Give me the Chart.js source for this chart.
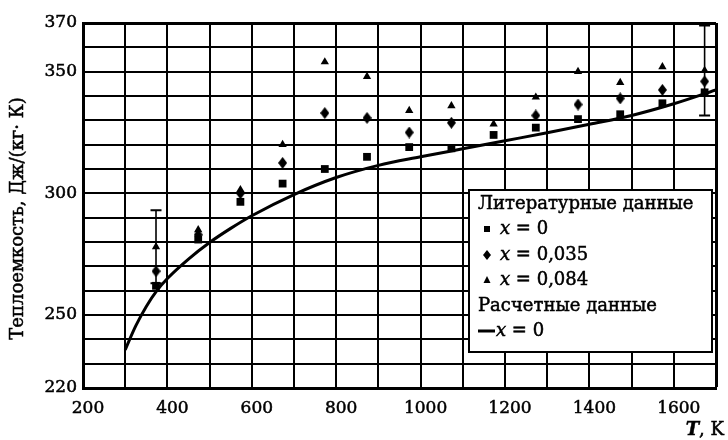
<!DOCTYPE html>
<html>
<head>
<meta charset="utf-8">
<script src="https://cdn.jsdelivr.net/npm/chart.js@4/dist/chart.umd.min.js"></script>
<style>
  html, body { margin: 0; padding: 0; background: #fff; overflow: hidden; }
  #wrap { width: 728px; height: 440px; }
  canvas { display: block; }
</style>
</head>
<body>
<div id="wrap"><canvas id="cp-chart" width="728" height="440"></canvas></div>
<script>
// Heat capacity vs temperature: literature points for three compositions + calculated curve (x = 0)

var temps = [373, 473, 573, 673, 773, 873, 973, 1073, 1173, 1273, 1373, 1473, 1573, 1673];
var cpX0 = [262, 281, 296.5, 304, 310, 315, 319, 318.5, 324, 327, 330.5, 332.5, 337, 341.5];
var cpX035 = [268, 283, 300, 312.5, 333, 331, 325, 329, null, 332, 336.5, 339, 342.5, 346];
var cpX084 = [278, 285, 301.5, 320, 354, 348, 334, 336, 328.5, 339.5, 350, 345.5, 352, 350.5];
// half-width of the error bars drawn on the x = 0,084 points
var errX084 = [15, 0, 0, 0, 0, 0, 0, 0, 0, 0, 0, 0, 0, 18.5];

var calcT = [300, 325, 350, 375, 400, 450, 500, 550, 600, 700, 800, 900, 1000, 1100, 1200, 1300, 1400, 1500, 1600, 1700];
var calcCp = [235.7, 245.5, 253.5, 260, 265, 273, 279.8, 285.6, 290.8, 299.5, 306.5, 311.5, 315, 318.3, 321.6, 324.9, 328.4, 332, 336.8, 342.5];

var yLabels = [220, 250, 300, 350, 370];
var xLabels = [200, 400, 600, 800, 1000, 1200, 1400, 1600];

var SERIF = '"DejaVu Serif", serif';
var INK = 0.5; // thin outline that thickens the serif text

function toPoints(xs, ys) {
  return xs.map(function(x, i) { return { x: x, y: ys[i] }; });
}

// taller-than-wide diamond marker
function makeDiamond(w, h) {
  var c = document.createElement('canvas');
  c.width = w; c.height = h;
  var g = c.getContext('2d');
  g.fillStyle = '#000';
  g.beginPath();
  g.moveTo(w / 2, 0);
  g.lineTo(w, h / 2);
  g.lineTo(w / 2, h);
  g.lineTo(0, h / 2);
  g.closePath();
  g.fill();
  return c;
}

function inkText(ctx, s, x, y) {
  ctx.fillText(s, x, y);
  ctx.strokeText(s, x, y);
}

var errorBars = {
  id: 'errorBars',
  afterDatasetsDraw: function(chart) {
    var ctx = chart.ctx, xs = chart.scales.x, ys = chart.scales.y;
    ctx.save();
    ctx.strokeStyle = '#000';
    chart.data.datasets.forEach(function(ds) {
      if (!ds.errors) return;
      ds.data.forEach(function(p, i) {
        var e = ds.errors[i];
        if (!e || p.y == null) return;
        var px = xs.getPixelForValue(p.x);
        var top = ys.getPixelForValue(p.y + e);
        var bot = ys.getPixelForValue(p.y - e);
        ctx.lineWidth = 1.6;
        ctx.beginPath();
        ctx.moveTo(px, top); ctx.lineTo(px, bot);
        ctx.stroke();
        ctx.lineWidth = 2;
        ctx.beginPath();
        ctx.moveTo(px - 5.5, top); ctx.lineTo(px + 5.5, top);
        ctx.moveTo(px - 5.5, bot); ctx.lineTo(px + 5.5, bot);
        ctx.stroke();
      });
    });
    ctx.restore();
  }
};

// boxed legend in the lower right, with italic "x" in each entry, plus both axis titles
var boxLegend = {
  id: 'boxLegend',
  afterDraw: function(chart) {
    var ctx = chart.ctx, a = chart.chartArea;
    var L = a.right - 247, T = a.bottom - 198, W = 243, H = 162;
    ctx.save();
    ctx.fillStyle = '#fff';
    ctx.fillRect(L, T, W, H);
    ctx.strokeStyle = '#000';
    ctx.lineWidth = 2;
    ctx.strokeRect(L, T, W, H);

    ctx.fillStyle = '#000';
    ctx.textBaseline = 'middle';
    var reg = '18px ' + SERIF, ital = 'italic 18px ' + SERIF;

    function entry(x, y, value) {
      ctx.lineWidth = INK;
      ctx.font = ital;
      inkText(ctx, 'x', x, y);
      var w = ctx.measureText('x').width;
      ctx.font = reg;
      inkText(ctx, ' = ' + value, x + w, y);
    }

    var rx = L + 9, mx = L + 18, tx = L + 31;
    ctx.lineWidth = INK;
    ctx.font = reg;
    inkText(ctx, 'Литературные данные', rx, T + 14);

    var y1 = T + 39;
    ctx.fillRect(mx - 3, y1 - 3, 6, 6);
    entry(tx, y1, '0');

    var y2 = T + 65;
    ctx.beginPath();
    ctx.moveTo(mx, y2 - 5); ctx.lineTo(mx + 4, y2); ctx.lineTo(mx, y2 + 5); ctx.lineTo(mx - 4, y2);
    ctx.closePath(); ctx.fill();
    entry(tx, y2, '0,035');

    var y3 = T + 90;
    ctx.beginPath();
    ctx.moveTo(mx, y3 - 4); ctx.lineTo(mx + 3.5, y3 + 3); ctx.lineTo(mx - 3.5, y3 + 3);
    ctx.closePath(); ctx.fill();
    entry(tx, y3, '0,084');

    ctx.lineWidth = INK;
    ctx.font = reg;
    inkText(ctx, 'Расчетные данные', rx, T + 116);

    var y4 = T + 141;
    ctx.lineWidth = 3;
    ctx.beginPath();
    ctx.moveTo(rx, y4); ctx.lineTo(rx + 17, y4);
    ctx.stroke();
    entry(rx + 18, y4, '0');

    // y axis title
    ctx.save();
    ctx.translate(18, a.top + (a.bottom - a.top) / 2 + 13);
    ctx.rotate(-Math.PI / 2);
    ctx.textAlign = 'center';
    ctx.lineWidth = INK;
    ctx.font = reg;
    inkText(ctx, 'Теплоемкость, Дж/(кг· К)', 0, 0);
    ctx.restore();

    // x axis title "T, K" under the right end of the axis
    ctx.textBaseline = 'alphabetic';
    ctx.textAlign = 'right';
    ctx.lineWidth = INK;
    ctx.font = reg;
    var tail = ', K';
    var tw = ctx.measureText(tail).width;
    var base = chart.height - 5;
    inkText(ctx, tail, chart.width - 4, base);
    ctx.font = 'bold italic 18px ' + SERIF;
    inkText(ctx, 'T', chart.width - 4 - tw, base);
    ctx.restore();
  }
};

function init() {
  var ctx = document.getElementById('cp-chart').getContext('2d');
  new Chart(ctx, {
    type: 'scatter',
    data: {
      datasets: [
        {
          label: 'Расчетные данные, x = 0',
          data: toPoints(calcT, calcCp),
          showLine: true,
          borderColor: '#000',
          borderWidth: 3,
          pointRadius: 0,
          cubicInterpolationMode: 'monotone'
        },
        {
          label: 'x = 0',
          data: toPoints(temps, cpX0),
          pointStyle: 'rect',
          pointRadius: 5.5,
          backgroundColor: '#000',
          borderColor: '#000',
          borderWidth: 0
        },
        {
          label: 'x = 0,035',
          data: toPoints(temps, cpX035),
          pointStyle: makeDiamond(9, 12),
          backgroundColor: '#000',
          borderColor: '#000'
        },
        {
          label: 'x = 0,084',
          data: toPoints(temps, cpX084),
          errors: errX084,
          pointStyle: 'triangle',
          pointRadius: 4.8,
          backgroundColor: '#000',
          borderColor: '#000',
          borderWidth: 0
        }
      ]
    },
    options: {
      responsive: false,
      animation: false,
      devicePixelRatio: 1,
      layout: { padding: { top: 23, right: 12, left: 0, bottom: 0 } },
      plugins: {
        legend: { display: false },
        tooltip: { enabled: false }
      },
      scales: {
        x: {
          type: 'linear',
          min: 200,
          max: 1700,
          afterFit: function(s) { s.height = 52; },
          afterBuildTicks: function(s) {
            s.ticks = [];
            for (var v = 200; v <= 1700; v += 100) s.ticks.push({ value: v });
          },
          border: { color: '#000', width: 3 },
          grid: {
            color: '#000',
            lineWidth: function(c) { return c.tick && c.tick.value === 1700 ? 3 : 2; },
            drawTicks: false
          },
          ticks: {
            color: '#000',
            font: { family: SERIF, size: 17 },
            textStrokeColor: '#000',
            textStrokeWidth: INK,
            padding: 10,
            labelOffset: 5,
            maxRotation: 0,
            autoSkip: false,
            callback: function(v) { return xLabels.indexOf(v) >= 0 ? String(v) : ''; }
          }
        },
        y: {
          type: 'linear',
          min: 220,
          max: 370,
          afterFit: function(s) { s.width = 83; },
          afterBuildTicks: function(s) {
            s.ticks = [];
            for (var v = 220; v <= 370; v += 10) s.ticks.push({ value: v });
          },
          border: { color: '#000', width: 3 },
          grid: {
            color: '#000',
            lineWidth: function(c) { return c.tick && c.tick.value === 370 ? 3 : 2; },
            drawTicks: false
          },
          ticks: {
            color: '#000',
            font: { family: SERIF, size: 17 },
            textStrokeColor: '#000',
            textStrokeWidth: INK,
            padding: 6,
            autoSkip: false,
            callback: function(v) { return yLabels.indexOf(v) >= 0 ? String(v) : ''; }
          }
        }
      }
    },
    plugins: [errorBars, boxLegend]
  });
}

if (document.readyState === 'loading') {
  document.addEventListener('DOMContentLoaded', init);
} else {
  init();
}
</script>
</body>
</html>
